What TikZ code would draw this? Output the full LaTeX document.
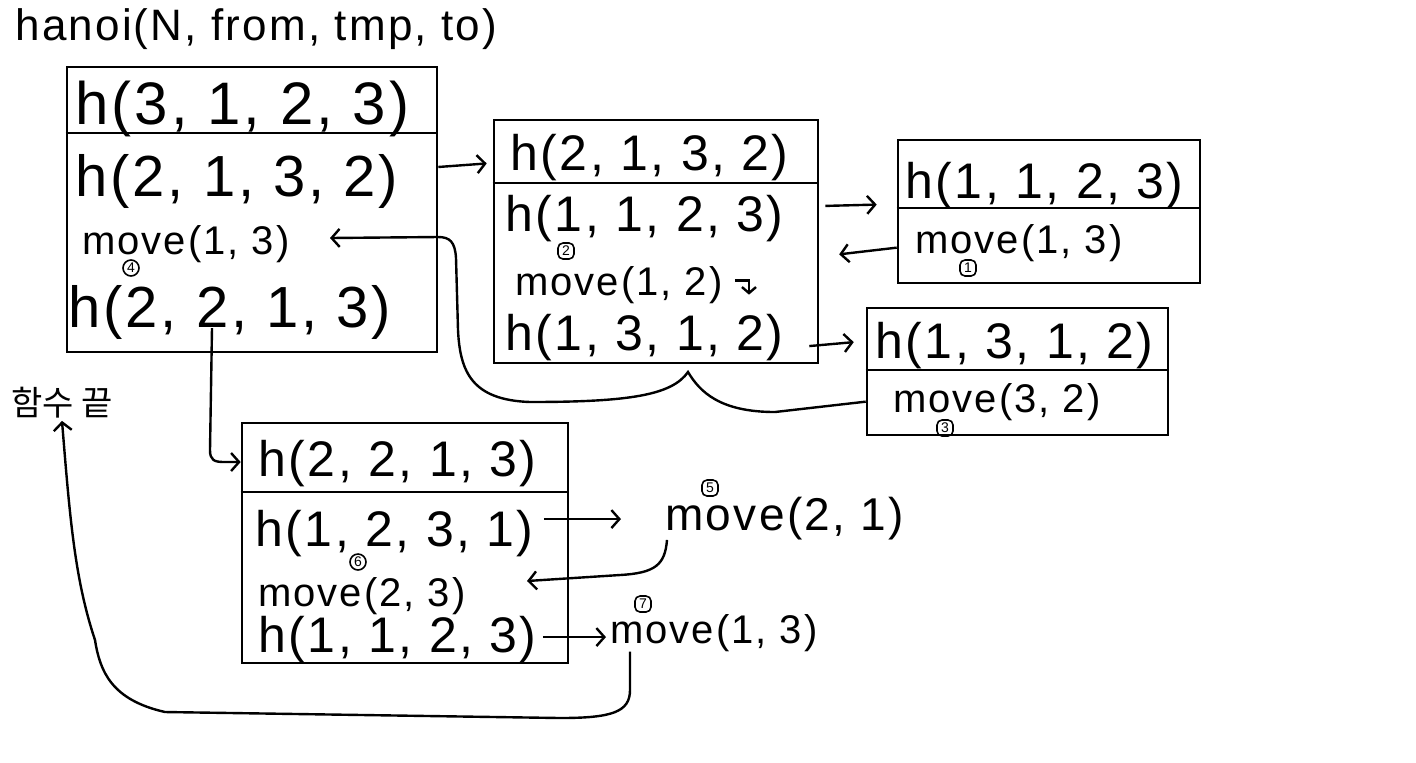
\documentclass[tikz,border=0pt]{standalone}
\usepackage{fontspec}
\setmainfont{Liberation Sans}[LetterSpace=5]
\newfontfamily\korfont{Noto Sans CJK KR}
\usetikzlibrary{arrows.meta, fit}
\definecolor{cInk}{HTML}{000000}
\tikzset{
    box/.style    ={draw=cInk, line width=1.3pt, inner sep=0pt},
    sep/.style    ={line width=1.3pt, cInk},
    cell/.style   ={anchor=base west, font=\fontsize{25}{27}\selectfont, inner sep=0pt, text=cInk},
    bigcell/.style={cell, font=\fontsize{29}{31}\selectfont},
    mv/.style     ={anchor=base west, font=\fontsize{20}{22}\selectfont, inner sep=0pt, text=cInk},
    badge/.style  ={draw=cInk, line width=0.8pt, rounded corners=2.5pt, inner sep=0.5pt,
                    minimum size=8pt, font=\fontsize{7}{7.5}\selectfont},
    rbadge/.style ={badge, circle},
    flow/.style   ={-{Straight Barb[length=4pt, width=9pt]}, line width=1.2pt, cInk},
}

\begin{document}
\begin{tikzpicture}[x=0.5pt, y=-0.5pt]
\useasboundingbox (0,0) rectangle (1416,762);

\node[mv, font=\fontsize{22}{24}\selectfont] (title) at (15,40) {hanoi(N, from, tmp, to)};

% ===================== h(3,1,2,3) =====================
\node[box, fit={(67,67) (437,352)}] (boxA) {};
\draw[sep] (boxA.west |- 0,133) -- (boxA.east |- 0,133);
\node[bigcell, font=\fontsize{30}{32}\selectfont] (aH) at (75,124) {h(3, 1, 2, 3)};
\node[bigcell] (aR1) at (75,196) {h(2, 1, 3, 2)};
\node[mv]      (aR2) at (82,254) {move(1, 3)};
\node[bigcell] (aR3) at (68,327) {h(2, 2, 1, 3)};
\node[rbadge]  (n4)  at (131,268) {4};

% ===================== h(2,1,3,2) =====================
\node[box, fit={(494,120) (818,363)}] (boxB) {};
\draw[sep] (boxB.west |- 0,183) -- (boxB.east |- 0,183);
\node[cell] (bH)  at (510,170) {h(2, 1, 3, 2)};
\node[cell] (bR1) at (505,231) {h(1, 1, 2, 3)};
\node[mv]   (bR2) at (515,295) {move(1, 2)};
\node[cell] (bR3) at (505,350) {h(1, 3, 1, 2)};
\node[badge] (n2) at (566,251) {2};

% ===================== h(1,1,2,3) / h(1,3,1,2) =====================
\node[box, fit={(898,140) (1200,283)}] (boxC) {};
\draw[sep] (boxC.west |- 0,208) -- (boxC.east |- 0,208);
\node[cell] (cH)  at (905,198) {h(1, 1, 2, 3)};
\node[mv]   (cR1) at (915,253) {move(1, 3)};
\node[badge] (n1) at (968,268) {1};

\node[box, fit={(867,308) (1168,435)}] (boxD) {};
\draw[sep] (boxD.west |- 0,370) -- (boxD.east |- 0,370);
\node[cell] (dH)  at (875,358) {h(1, 3, 1, 2)};
\node[mv]   (dR1) at (893,412) {move(3, 2)};
\node[badge] (n3) at (945,428) {3};

% ===================== h(2,2,1,3) =====================
\node[box, fit={(242,423) (568,663)}] (boxE) {};
\draw[sep] (boxE.west |- 0,492) -- (boxE.east |- 0,492);
\node[cell] (eH)  at (258,476) {h(2, 2, 1, 3)};
\node[cell] (eR1) at (255,546) {h(1, 2, 3, 1)};
\node[mv]   (eR2) at (258,606) {move(2, 3)};
\node[cell] (eR3) at (258,652) {h(1, 1, 2, 3)};
\node[rbadge] (n6) at (358,562) {6};

\node[mv, font=\fontsize{23}{25}\selectfont] (mv5) at (665,530) {move(2, 1)};
\node[badge] (n5) at (710,488) {5};
\node[mv]    (mv7) at (610,643) {move(1, 3)};
\node[badge] (n7) at (643,604) {7};

\node[font=\korfont\fontsize{17}{19}\selectfont, inner sep=1pt] (kor) at (62,403) {함수 끝};

% ===================== calls and returns =====================
\coordinate (aDrop) at (212,328);
\coordinate (aIn)   at (330,238);
\coordinate (eIn)   at (527,581);

\draw[flow, shorten >=3pt] ([yshift=7pt]boxA.east |- aR1) -- ([yshift=9pt]boxB.west |- aR1);
\draw[flow, shorten <=3pt, shorten >=10pt] ([yshift=6pt]boxB.east |- bR1) -- ([yshift=7pt]boxC.west |- bR1);
\draw[flow, shorten >=10pt] ([yshift=-2.5pt]boxC.west |- cR1) -- ([yshift=-7pt]boxB.east |- cR1);
\draw[flow, -{Straight Barb[length=3pt, width=7pt]}] ([xshift=6pt, yshift=2pt]bR2.east) -- ++(14,0) -- ++(0,14);
\draw[flow, shorten >=6pt] ([xshift=-5pt, yshift=-4.5pt]boxB.east |- bR3) -- ([yshift=-2pt]boxD.west |- bR3);
\draw[flow] (boxD.west |- dR1) -- (775,412)
      .. controls (720,412) and (700,392) .. (688,372)
      .. controls (672,395) and (630,402) .. (530,402)
      .. controls (472,400) and (460,372) .. (458,330)
      -- (456,258) .. controls (455,242) and (450,237) .. (438,237) -- (aIn);
\draw[flow] (aDrop) -- (210,450) .. controls (210,460) and (214,462) .. (224,462)
      -- (boxE.west |- 0,462);
\draw[flow, shorten >=22pt] ([xshift=5pt, yshift=7pt]eR1.east) -- ([yshift=7pt]mv5.west |- eR1);
\draw[flow] ([xshift=1pt]mv5.south west)
      .. controls (665,565) and (655,573) .. (620,575) -- (eIn);
\draw[flow, shorten <=3pt, shorten >=2pt] ([yshift=1pt]eR3.east) -- ([yshift=1pt]mv7.west |- eR3);
\draw[flow] ([xshift=10pt]mv7.south west) -- (630,690)
      .. controls (630,712) and (612,718) .. (560,718) -- (165,712)
      .. controls (112,700) and (100,672) .. (95,640)
      .. controls (75,580) and (70,520) .. (kor.south);

\end{tikzpicture}
\end{document}
